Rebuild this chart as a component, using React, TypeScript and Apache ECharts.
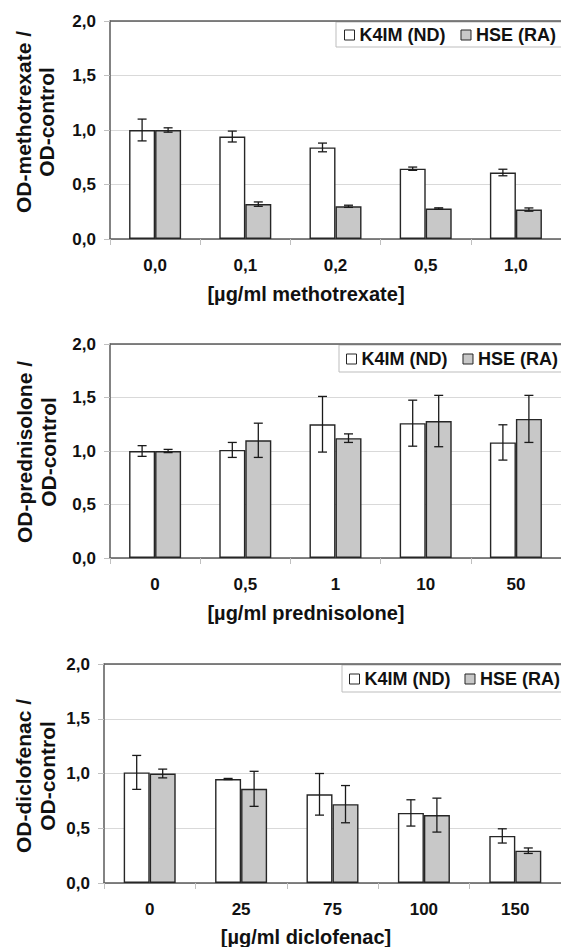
import React, { useEffect, useRef } from "react";
import * as echarts from "echarts";

// ---------- data ----------
const legendNames = ["K4IM (ND)", "HSE (RA)"];
const yTickValues = [0, 0.5, 1, 1.5, 2];

const mtxCats = ["0,0", "0,1", "0,2", "0,5", "1,0"];
const mtxK4 = [1.0, 0.94, 0.84, 0.645, 0.61];
const mtxK4Err = [0.1, 0.05, 0.04, 0.015, 0.03];
const mtxHse = [1.0, 0.32, 0.3, 0.28, 0.27];
const mtxHseErr = [0.02, 0.02, 0.01, 0.006, 0.015];

const predCats = ["0", "0,5", "1", "10", "50"];
const predK4 = [1.0, 1.01, 1.25, 1.26, 1.08];
const predK4Err = [0.05, 0.07, 0.26, 0.215, 0.165];
const predHse = [1.0, 1.1, 1.12, 1.28, 1.3];
const predHseErr = [0.015, 0.16, 0.04, 0.24, 0.22];

const dicCats = ["0", "25", "75", "100", "150"];
const dicK4 = [1.01, 0.95, 0.81, 0.64, 0.43];
const dicK4Err = [0.155, 0.005, 0.19, 0.12, 0.065];
const dicHse = [1.0, 0.86, 0.72, 0.62, 0.295];
const dicHseErr = [0.04, 0.16, 0.17, 0.155, 0.025];

const xNames = ["[µg/ml methotrexate]", "[µg/ml prednisolone]", "[µg/ml diclofenac]"];
const yNameLines = [
  ["OD-methotrexate /", "OD-control"],
  ["OD-prednisolone /", "OD-control"],
  ["OD-diclofenac /", "OD-control"],
];

// ---------- layout / style ----------
const FONT = '"Liberation Sans", Arial, sans-serif';
const BAR_W = 26;
const layouts = [
  { grid: { left: 110, top: 21, width: 455, height: 218 }, legend: { left: 336, top: 22, pl: 8, pv: [4, 3], gap: 15 }, yT: { x1: 23, x2: 46, y: 122 }, xNameY: 294 },
  { grid: { left: 110, top: 344, width: 462, height: 214 }, legend: { left: 339, top: 345, pl: 7, pv: [5, 4], gap: 15 }, yT: { x1: 24, x2: 48, y: 452 }, xNameY: 613 },
  { grid: { left: 104, top: 664, width: 464, height: 219 }, legend: { left: 342, top: 665, pl: 7, pv: [5, 4], gap: 14 }, yT: { x1: 23.5, x2: 47, y: 776 }, xNameY: 937 },
];

const panelData = [
  { cats: mtxCats, k4: mtxK4, k4e: mtxK4Err, hse: mtxHse, hsee: mtxHseErr },
  { cats: predCats, k4: predK4, k4e: predK4Err, hse: predHse, hsee: predHseErr },
  { cats: dicCats, k4: dicK4, k4e: dicK4Err, hse: dicHse, hsee: dicHseErr },
];

const WHITE = "#ffffff";
const GRAY = "#c8c8c8";
const EDGE = "#262626";
const FRAME = "#5a5a5a";

function errorSeries(idx: number, vals: number[], errs: number[], offset: number) {
  return {
    type: "custom",
    xAxisIndex: idx,
    yAxisIndex: idx,
    z: 10,
    silent: true,
    encode: { x: 0, y: 1 },
    data: vals.map((v, i) => [i, v, errs[i]]),
    renderItem: (params: any, api: any) => {
      const i = api.value(0);
      const v = api.value(1);
      const e = api.value(2);
      const c = api.coord([i, v]);
      const hi = api.coord([i, v + e]);
      const lo = api.coord([i, v - e]);
      const x = c[0] + offset;
      const cap = 4.5;
      const st = { stroke: "#1a1a1a", lineWidth: 1.3 };
      return {
        type: "group",
        children: [
          { type: "line", shape: { x1: x, y1: hi[1], x2: x, y2: lo[1] }, style: st },
          { type: "line", shape: { x1: x - cap, y1: hi[1], x2: x + cap, y2: hi[1] }, style: st },
          { type: "line", shape: { x1: x - cap, y1: lo[1], x2: x + cap, y2: lo[1] }, style: st },
        ],
      };
    },
  };
}

export default function App() {
  const ref = useRef<HTMLDivElement>(null);
  useEffect(() => {
    if (!ref.current) return;
    const chart = echarts.init(ref.current, null, { renderer: "svg" });
    const grids: any[] = [];
    const xAxes: any[] = [];
    const yAxes: any[] = [];
    const legends: any[] = [];
    const series: any[] = [];
    const graphics: any[] = [];

    panelData.forEach((p, idx) => {
      const L = layouts[idx];
      grids.push({ ...L.grid, show: false });
      xAxes.push({
        type: "category",
        gridIndex: idx,
        data: p.cats,
        axisLine: { show: true, lineStyle: { color: FRAME, width: 1.5 } },
        axisTick: { show: true, length: 6, lineStyle: { color: "#c0c0c0" } },
        axisLabel: { margin: 18, fontFamily: FONT, fontWeight: "bold", fontSize: 17, color: "#111" },
      });
      yAxes.push({
        type: "value",
        gridIndex: idx,
        min: 0,
        max: 2,
        interval: 0.5,
        axisLine: { show: true, lineStyle: { color: FRAME, width: 1.5 } },
        axisTick: { show: true, length: 6, lineStyle: { color: "#c0c0c0" } },
        splitLine: { show: true, lineStyle: { color: "#d9d9d9", width: 1 } },
        axisLabel: {
          margin: 14,
          fontFamily: FONT,
          fontWeight: "bold",
          fontSize: 17,
          color: "#111",
          formatter: (v: number) => (yTickValues.includes(v) ? v.toFixed(1).replace(".", ",") : ""),
        },
      });
      legends.push({
        left: L.legend.left,
        top: L.legend.top,
        width: 400,
        orient: "horizontal",
        backgroundColor: "#ffffff",
        borderColor: "#bdbdbd",
        borderWidth: 1,
        padding: [L.legend.pv[0], 60, L.legend.pv[1], L.legend.pl],
        itemWidth: 10,
        itemHeight: 10,
        itemGap: L.legend.gap,
        icon: "rect",
        textStyle: { fontFamily: FONT, fontWeight: "bold", fontSize: 18, color: "#111", lineHeight: 18 },
        data: [
          { name: legendNames[0], itemStyle: { color: WHITE, borderColor: EDGE, borderWidth: 1 } },
          { name: legendNames[1], itemStyle: { color: GRAY, borderColor: EDGE, borderWidth: 1 } },
        ],
        selectedMode: false,
      });
      series.push({
        type: "bar",
        name: legendNames[0],
        xAxisIndex: idx,
        yAxisIndex: idx,
        barWidth: BAR_W,
        barGap: "0%",
        data: p.k4,
        itemStyle: { color: WHITE, borderColor: EDGE, borderWidth: 1.4 },
      });
      series.push({
        type: "bar",
        name: legendNames[1],
        xAxisIndex: idx,
        yAxisIndex: idx,
        barWidth: BAR_W,
        barGap: "0%",
        data: p.hse,
        itemStyle: { color: GRAY, borderColor: EDGE, borderWidth: 1.4 },
      });
      series.push(errorSeries(idx, p.k4, p.k4e, -BAR_W / 2));
      series.push(errorSeries(idx, p.hse, p.hsee, BAR_W / 2));

      // top frame line of the plot area (right side is cut off in the reference)
      graphics.push({
        type: "line",
        z: 5,
        shape: { x1: L.grid.left, y1: L.grid.top, x2: 700, y2: L.grid.top },
        style: { stroke: FRAME, lineWidth: 1.5 },
      });

      const lines = yNameLines[idx];
      graphics.push({
        type: "text",
        x: L.yT.x1,
        y: L.yT.y,
        rotation: Math.PI / 2,
        style: { text: lines[0], fontFamily: FONT, fontWeight: "bold", fontSize: 21, fill: "#111", align: "center", verticalAlign: "middle" },
      });
      graphics.push({
        type: "text",
        x: L.yT.x2,
        y: L.yT.y,
        rotation: Math.PI / 2,
        style: { text: lines[1], fontFamily: FONT, fontWeight: "bold", fontSize: 21, fill: "#111", align: "center", verticalAlign: "middle" },
      });
      graphics.push({
        type: "text",
        x: 306,
        y: L.xNameY,
        style: { text: xNames[idx], fontFamily: FONT, fontWeight: "bold", fontSize: 20, fill: "#111", align: "center", verticalAlign: "middle" },
      });
    });

    chart.setOption({
      animation: false,
      backgroundColor: "#ffffff",
      grid: grids,
      xAxis: xAxes,
      yAxis: yAxes,
      legend: legends,
      series,
      graphic: graphics,
    });
    return () => chart.dispose();
  }, []);

  return (
    <div style={{ position: "fixed", left: 0, top: 0, width: 561, height: 947, overflow: "hidden", background: "#fff" }}>
      <div ref={ref} style={{ width: 561, height: 947 }} />
    </div>
  );
}
